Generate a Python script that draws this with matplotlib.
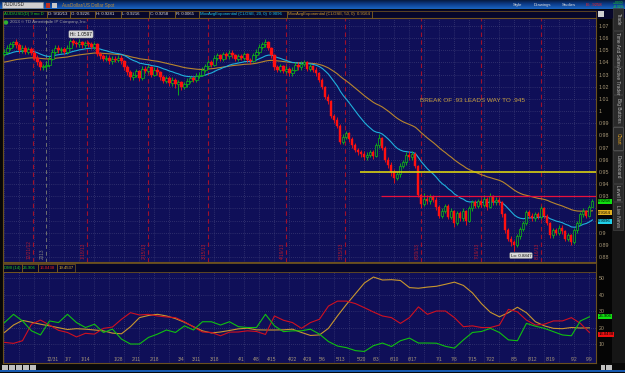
import numpy as np
import matplotlib.pyplot as plt
from matplotlib.patches import Rectangle
from matplotlib.colors import LinearSegmentedColormap
from matplotlib.transforms import blended_transform_factory

plt.rcParams["font.family"] = ["Liberation Sans", "DejaVu Sans"]

# AUD/USD daily bars, 12/10/12 .. 9/10/13
closes = [
    1.049, 1.052, 1.055, 1.057, 1.054, 1.050, 1.052, 1.049, 1.051, 1.048,
    1.044, 1.040, 1.036, 1.037, 1.038, 1.043, 1.049, 1.052, 1.050, 1.051,
    1.049, 1.052, 1.058, 1.056, 1.055, 1.057, 1.054, 1.056, 1.055, 1.053,
    1.055, 1.047, 1.045, 1.043, 1.044, 1.041, 1.043, 1.042, 1.044, 1.041,
    1.036, 1.032, 1.028, 1.030, 1.033, 1.027, 1.035, 1.033, 1.036, 1.030,
    1.034, 1.032, 1.028, 1.025, 1.027, 1.023, 1.026, 1.022, 1.024, 1.020,
    1.022, 1.025, 1.027, 1.026, 1.029, 1.030, 1.034, 1.037, 1.040, 1.038,
    1.044, 1.046, 1.043, 1.047, 1.045, 1.048, 1.046, 1.043, 1.045, 1.044,
    1.047, 1.042, 1.041, 1.046, 1.049, 1.053, 1.055, 1.057, 1.052, 1.046,
    1.036, 1.034, 1.037, 1.033, 1.035, 1.031, 1.034, 1.038, 1.036, 1.039,
    1.040, 1.035, 1.037, 1.034, 1.031, 1.026, 1.020, 1.012, 1.008, 0.996,
    0.993, 0.988, 0.975, 0.979, 0.982, 0.977, 0.972, 0.968, 0.966, 0.965,
    0.962, 0.964, 0.966, 0.963, 0.972, 0.978, 0.970, 0.960, 0.956, 0.950,
    0.945, 0.948, 0.955, 0.958, 0.964, 0.962, 0.965, 0.955, 0.931, 0.924,
    0.928, 0.926, 0.929, 0.927, 0.921, 0.914, 0.918, 0.922, 0.913, 0.918,
    0.908, 0.916, 0.912, 0.918, 0.910, 0.920, 0.925, 0.922, 0.926, 0.923,
    0.928, 0.921, 0.930, 0.925, 0.927, 0.925, 0.915, 0.902, 0.895, 0.892,
    0.890, 0.897, 0.903, 0.908, 0.917, 0.914, 0.912, 0.915, 0.913, 0.920,
    0.914, 0.908, 0.898, 0.902, 0.900, 0.904, 0.901, 0.895, 0.898, 0.892,
    0.902, 0.908, 0.915, 0.918, 0.914, 0.921, 0.9258,
]
highs = [
    1.051, 1.054, 1.057, 1.058, 1.059, 1.056, 1.054, 1.054, 1.053, 1.053,
    1.050, 1.046, 1.042, 1.039, 1.040, 1.045, 1.051, 1.054, 1.054, 1.053,
    1.053, 1.054, 1.0597, 1.059, 1.058, 1.059, 1.058, 1.058, 1.058, 1.057,
    1.057, 1.056, 1.049, 1.047, 1.046, 1.046, 1.045, 1.045, 1.046, 1.046,
    1.042, 1.038, 1.034, 1.032, 1.035, 1.034, 1.037, 1.037, 1.038, 1.037,
    1.036, 1.036, 1.033, 1.030, 1.029, 1.029, 1.028, 1.027, 1.026, 1.025,
    1.024, 1.027, 1.029, 1.029, 1.031, 1.032, 1.036, 1.039, 1.042, 1.042,
    1.046, 1.048, 1.047, 1.049, 1.049, 1.050, 1.050, 1.047, 1.047, 1.047,
    1.049, 1.048, 1.044, 1.048, 1.051, 1.055, 1.057, 1.059, 1.058, 1.053,
    1.047, 1.038, 1.039, 1.038, 1.037, 1.036, 1.036, 1.040, 1.040, 1.041,
    1.042, 1.041, 1.039, 1.038, 1.036, 1.032, 1.027, 1.021, 1.014, 1.009,
    0.998, 0.995, 0.989, 0.981, 0.984, 0.983, 0.979, 0.974, 0.970, 0.968,
    0.967, 0.966, 0.968, 0.968, 0.974, 0.981, 0.979, 0.971, 0.962, 0.958,
    0.952, 0.950, 0.957, 0.960, 0.966, 0.967, 0.967, 0.966, 0.956, 0.933,
    0.933, 0.931, 0.932, 0.931, 0.929, 0.923, 0.920, 0.924, 0.924, 0.920,
    0.919, 0.918, 0.918, 0.920, 0.919, 0.922, 0.927, 0.927, 0.928, 0.928,
    0.931, 0.929, 0.933, 0.931, 0.929, 0.929, 0.926, 0.916, 0.904, 0.897,
    0.894, 0.899, 0.905, 0.910, 0.919, 0.919, 0.916, 0.917, 0.917, 0.922,
    0.921, 0.915, 0.909, 0.904, 0.904, 0.906, 0.906, 0.902, 0.900, 0.899,
    0.904, 0.910, 0.917, 0.920, 0.919, 0.923, 0.9281,
]
lows = [
    1.045, 1.047, 1.050, 1.053, 1.052, 1.048, 1.048, 1.047, 1.047, 1.046,
    1.042, 1.038, 1.034, 1.034, 1.035, 1.036, 1.042, 1.047, 1.048, 1.048,
    1.047, 1.047, 1.051, 1.054, 1.053, 1.053, 1.052, 1.052, 1.053, 1.051,
    1.051, 1.045, 1.043, 1.041, 1.041, 1.039, 1.039, 1.040, 1.040, 1.039,
    1.034, 1.030, 1.026, 1.026, 1.028, 1.025, 1.026, 1.031, 1.031, 1.028,
    1.029, 1.030, 1.026, 1.023, 1.023, 1.021, 1.021, 1.019, 1.013, 1.017,
    1.018, 1.020, 1.023, 1.024, 1.024, 1.027, 1.029, 1.032, 1.035, 1.036,
    1.037, 1.042, 1.041, 1.041, 1.043, 1.043, 1.044, 1.041, 1.041, 1.042,
    1.042, 1.040, 1.039, 1.040, 1.044, 1.047, 1.051, 1.053, 1.050, 1.044,
    1.034, 1.032, 1.032, 1.031, 1.031, 1.029, 1.029, 1.033, 1.034, 1.034,
    1.037, 1.033, 1.033, 1.032, 1.029, 1.024, 1.018, 1.010, 1.006, 0.994,
    0.990, 0.986, 0.973, 0.973, 0.977, 0.975, 0.970, 0.966, 0.964, 0.962,
    0.960, 0.960, 0.962, 0.961, 0.962, 0.970, 0.968, 0.958, 0.953, 0.947,
    0.941, 0.943, 0.946, 0.953, 0.956, 0.960, 0.960, 0.953, 0.929, 0.920,
    0.922, 0.924, 0.924, 0.925, 0.919, 0.912, 0.912, 0.916, 0.911, 0.911,
    0.905, 0.906, 0.910, 0.910, 0.906, 0.909, 0.918, 0.920, 0.920, 0.921,
    0.921, 0.919, 0.920, 0.923, 0.923, 0.923, 0.913, 0.900, 0.893, 0.889,
    0.8847, 0.888, 0.895, 0.901, 0.906, 0.912, 0.910, 0.910, 0.911, 0.911,
    0.912, 0.906, 0.896, 0.896, 0.898, 0.898, 0.899, 0.893, 0.893, 0.890,
    0.891, 0.900, 0.906, 0.913, 0.912, 0.913, 0.9216,
]
first_open = 1.047
ema20_start = 1.046
ema50_start = 1.040

# DMI(14) read every third bar
di_plus = [
    23, 28, 24, 18, 15.5, 24, 23, 28, 23, 20, 22, 17, 19, 13, 10, 10, 14,
    16, 18.5, 17, 21, 18.5, 23.5, 23.5, 21.5, 23.5, 20.5, 20, 20, 28, 21,
    17.5, 18, 18, 19, 16, 11.5, 8.8, 7.8, 6, 5.5, 9, 10.6, 8.5, 12, 13.6,
    10.6, 10.6, 10.5, 8.6, 7.5, 12.5, 17, 17.6, 19.5, 17, 12.5, 12, 22.5,
    20.8, 19.5, 17.5, 15.5, 15, 24, 26.5,
]
di_minus = [
    11, 10.4, 12, 22, 24.5, 21.5, 18.3, 17, 14.3, 16.5, 16, 19.5, 20.3, 25,
    29, 27.6, 28, 27, 26.4, 26, 23.5, 20.3, 17.3, 17, 15, 17.2, 17.3, 18,
    17.6, 15.8, 27, 24.4, 23, 19.5, 23, 25, 33, 36, 36, 34.5, 32, 29.4, 27,
    26, 22.5, 26, 32.5, 28, 30, 30, 26, 20.5, 21, 20, 20, 21.5, 31, 29.5,
    24.5, 21.5, 22, 24, 24, 26, 22.5, 17,
]
adx = [
    17, 21.5, 24.3, 23.2, 22, 21, 19.9, 18.8, 19.3, 19, 18.5, 18, 16.6, 16.2,
    20.5, 26, 27.3, 28, 27, 25.4, 23.2, 20.5, 18, 16.7, 17.3, 18.2, 19.2,
    19.6, 18.6, 18.5, 18.5, 18.6, 19, 17, 15.2, 15.5, 19.5, 27, 34, 40.5,
    47, 50.6, 48.8, 49, 48.5, 44.2, 43.8, 44.5, 45, 46.2, 47.5, 45.5, 41,
    34.5, 29.2, 26.5, 29, 32.3, 29, 23.5, 21, 19.5, 19.3, 20, 19.7, 19.8,
]

date_labels = ["12/31", "1/7", "1/14", "1/28", "2/11", "2/18", "3/4", "3/11",
               "3/18", "4/1", "4/8", "4/15", "4/22", "4/29", "5/6", "5/13",
               "5/20", "6/3", "6/10", "6/17", "7/1", "7/8", "7/15", "7/22",
               "8/5", "8/12", "8/19", "9/2", "9/9"]
date_label_idx = [16, 21, 27, 38, 44, 50, 59, 64, 70, 79, 84, 89, 96, 101,
                  106, 112, 119, 124, 130, 136, 145, 150, 156, 162, 170, 176,
                  182, 190, 195]
week_idx = list(range(0, 197, 5))
event_idx = [9.5, 27.5, 48, 68, 94, 113.5, 139, 159, 179]
event_labels = ["12/21/12", "1/18/13", "2/15/13", "3/15/13", "4/19/13",
                "5/15/13", "6/20/13", "7/19/13", "8/16/13"]
year_idx = 14

price_ticks = [round(0.88 + 0.01 * k, 2) for k in range(20)]
hidden_price_ticks = [0.92, 0.91]  # covered by the last-value boxes
dmi_ticks = [10, 20, 30, 40, 50]

W, H = 625, 373
NAVY = "#0f0f58"
GRID = "#4a4a80"
AXTXT = "#a89878"


def frac(x0, y0, x1, y1):
    return [x0 / W, 1 - y1 / H, (x1 - x0) / W, (y1 - y0) / H]


def ema(values, span, start):
    k = 2 / (span + 1)
    out = []
    prev = start
    for v in values:
        prev = prev + k * (v - prev)
        out.append(prev)
    return out


def price_label(v):
    if v in hidden_price_ticks:
        return ""
    return f"{v:.2f}".rstrip("0").rstrip(".")


n = len(closes)
idx = np.arange(n)
opens = [first_open] + closes[:-1]
ema20 = ema(closes, 20, ema20_start)
ema50 = ema(closes, 50, ema50_start)

fig = plt.figure(figsize=(W / 100, H / 100), dpi=100, facecolor="#050505")

# ---- window chrome underneath ----
bg = fig.add_axes([0, 0, 1, 1])
bg.set_xlim(0, W)
bg.set_ylim(H, 0)
bg.axis("off")
cmap = LinearSegmentedColormap.from_list("bar", ["#061430", "#0c3c8a", "#1a64c0"])
bg.imshow(np.linspace(0, 1, 20).reshape(-1, 1), extent=(0, W, 9.5, 0),
          aspect="auto", cmap=cmap, zorder=0)
bg.add_patch(Rectangle((0, 9.5), W, 9, fc="#07072a", ec="none"))
bg.add_patch(Rectangle((612, 18), 13, 345, fc="#161616", ec="none"))
bg.add_patch(Rectangle((0, 363), W, 10, fc="#080808", ec="none"))
bg.plot([0, W], [371, 371], color="#1a6ad0", lw=1.2)

# ---- price panel ----
ax = fig.add_axes(frac(3, 18, 596, 262))
ax.set_facecolor(NAVY)
ax.set_xlim(-0.5, 197.2)
ax.set_ylim(0.8759, 1.0766)
for s in ax.spines.values():
    s.set_color("#6a5020")
    s.set_linewidth(0.8)
ax.set_xticks([])
ax.yaxis.tick_right()
ax.set_yticks(price_ticks)
ax.set_yticklabels([price_label(v) for v in price_ticks])
ax.tick_params(axis="y", length=0, pad=2, labelsize=3.8, labelcolor=AXTXT)
for p in price_ticks:
    ax.axhline(p, color=GRID, lw=0.5, ls=(0, (1, 2)), zorder=1)
for w in week_idx:
    ax.axvline(w, color=GRID, lw=0.5, ls=(0, (1, 2)), zorder=1)
for e in event_idx:
    ax.axvline(e, color="#a0102c", lw=0.8, ls=(0, (4, 3)), zorder=1.5)
ax.axvline(year_idx, color="#707070", lw=0.7, ls=(0, (4, 3)), zorder=1.5)
for e, lab in zip(event_idx, event_labels):
    ax.text(e - 1.3, 0.878, lab, rotation=90, fontsize=3.4, color="#b01a30",
            ha="center", va="bottom", zorder=2)
ax.text(year_idx - 1.3, 0.878, "2013", rotation=90, fontsize=3.4,
        color="#808080", ha="center", va="bottom", zorder=2)

ax.plot(idx, ema50, color="#b8862e", lw=0.8, zorder=3)
ax.plot(idx, ema20, color="#1fb0dc", lw=0.8, zorder=3)

up = [c >= o for o, c in zip(opens, closes)]
wick_col = ["#10c010" if u else "#ff1010" for u in up]
ax.vlines(idx, lows, highs, colors=wick_col, lw=0.6, zorder=4)
for i in range(n):
    body = closes[i] - opens[i]
    if up[i]:
        ax.bar(i, max(body, 0.0004), bottom=opens[i], width=0.7, fc=NAVY,
               ec="#10c010", lw=0.5, zorder=5)
    else:
        ax.bar(i, min(body, -0.0004), bottom=opens[i], width=0.7,
               fc="#ff1010", ec="#ff1010", lw=0.3, zorder=5)

ax.hlines(0.95, 118.5, 197.2, color="#d8d010", lw=1.2, zorder=6)
ax.hlines(0.93, 125.5, 197.2, color="#e8103c", lw=0.9, zorder=6)
ax.text(156, 1.0091, "BREAK OF .93 LEADS WAY TO .945", fontsize=4.6,
        color="#c8a040", ha="center", va="center", zorder=7)

hi_i = int(np.argmax(highs))
lo_i = int(np.argmin(lows))
ax.text(hi_i + 3.5, max(highs) + 0.0035, "Hi: 1.0597", fontsize=3.4,
        color="#101010", ha="center", va="center", zorder=8,
        bbox=dict(boxstyle="round,pad=0.25", fc="#d8d8d8", ec="#909090", lw=0.3))
ax.text(lo_i + 2.2, min(lows) - 0.0035, "Lo: 0.8847", fontsize=3.2,
        color="#101010", ha="center", va="center", zorder=8,
        bbox=dict(boxstyle="round,pad=0.2", fc="#d8d8d8", ec="#909090", lw=0.3))

tr = blended_transform_factory(ax.transAxes, ax.transData)
for val, txt, fc in [(0.9258, "0.9258", "#10e010"), (0.9164, "0.9164", "#e0b020"),
                     (0.9096, "0.9096", "#20d0e8")]:
    ax.text(1.004, val, txt, transform=tr, fontsize=3.1, color="#000000",
            ha="left", va="center", clip_on=False, zorder=9,
            bbox=dict(boxstyle="square,pad=0.12", fc=fc, ec="none"))

# ---- DMI panel ----
ax2 = fig.add_axes(frac(3, 263, 596, 363))
ax2.set_facecolor(NAVY)
ax2.set_xlim(-0.5, 197.2)
ax2.set_ylim(-1.5, 59.1)
for s in ax2.spines.values():
    s.set_color("#6a5020")
    s.set_linewidth(0.8)
ax2.set_xticks([])
ax2.yaxis.tick_right()
ax2.set_yticks(dmi_ticks)
ax2.set_yticklabels([str(t) for t in dmi_ticks])
ax2.tick_params(axis="y", length=0, pad=2, labelsize=3.8, labelcolor=AXTXT)
for t in dmi_ticks:
    ax2.axhline(t, color=GRID, lw=0.5, ls=(0, (1, 2)), zorder=1)
for w in week_idx:
    ax2.axvline(w, color=GRID, lw=0.5, ls=(0, (1, 2)), zorder=1)
dmi_x = np.arange(len(adx)) * 3
ax2.plot(dmi_x, adx, color="#c8962e", lw=0.8, zorder=3)
ax2.plot(dmi_x, di_minus, color="#d01020", lw=0.8, zorder=3)
ax2.plot(dmi_x, di_plus, color="#10c010", lw=0.8, zorder=3)
tr2 = blended_transform_factory(ax2.transData, ax2.transAxes)
for i, lab in zip(date_label_idx, date_labels):
    ax2.text(i, 0.035, lab, transform=tr2, fontsize=3.4, color=AXTXT,
             ha="center", va="center", zorder=4)
tr3 = blended_transform_factory(ax2.transAxes, ax2.transData)
for val, txt, fc in [(26.906, "26.906", "#10e010"), (16.0438, "16.0438", "#f01010")]:
    ax2.text(1.004, val, txt, transform=tr3, fontsize=3.1, color="#000000",
             ha="left", va="center", clip_on=False, zorder=9,
             bbox=dict(boxstyle="square,pad=0.12", fc=fc, ec="none"))

# ---- overlay: headers, tabs, captions ----
top = fig.add_axes([0, 0, 1, 1], zorder=10)
top.set_xlim(0, W)
top.set_ylim(H, 0)
top.axis("off")
top.patch.set_alpha(0)


def cell(x0, x1, y0, y1, txt, color, size=3.1):
    top.add_patch(Rectangle((x0, y0), x1 - x0, y1 - y0, fc="none",
                            ec="#7a5a20", lw=0.5))
    top.text(x0 + 1.2, (y0 + y1) / 2, txt, fontsize=size, color=color,
             ha="left", va="center")


# title bar
top.add_patch(Rectangle((2, 2), 41, 6, fc="#d0d0d0", ec="#808080", lw=0.4))
top.text(4, 5, "AUD/USD", fontsize=3.3, color="#202020", va="center")
top.add_patch(Rectangle((46, 2.5), 4, 5, fc="#c03020", ec="none"))
top.add_patch(Rectangle((52, 2.5), 5, 5, fc="#c8c8c8", ec="none"))
top.text(62, 5, "AusDollar/US Dollar Spot", fontsize=3.3, color="#c08a30",
         va="center")
for x, lab in [(513, "Style"), (534, "Drawings"), (562, "Studies")]:
    top.text(x, 5, lab, fontsize=3.1, color="#e0e0e0", va="center")
top.text(586, 5, "B: .9258", fontsize=3.1, color="#ff2020", va="center")
top.text(613, 3.2, "+.0030", fontsize=2.4, color="#20e020", va="center")
top.text(613, 6.6, "+0.32%", fontsize=2.4, color="#20e020", va="center")

# study header
cell(3, 47, 10.5, 17.5, "AUD/USD(D) 9 mo D", "#20d020")
cell(47, 70, 10.5, 17.5, "D: 9/10/13", "#e0e0e0")
cell(70, 95, 10.5, 17.5, "O: 0.9226", "#e0e0e0")
cell(95, 121, 10.5, 17.5, "H: 0.9281", "#e0e0e0")
cell(121, 149, 10.5, 17.5, "L: 0.9216", "#e0e0e0")
cell(149, 175, 10.5, 17.5, "C: 0.9258", "#e0e0e0")
cell(175, 199, 10.5, 17.5, "R: 0.0065", "#e0e0e0")
cell(199, 287, 10.5, 17.5, "MovAvgExponential (CLOSE, 20, 0)  0.9096", "#20c8e8")
cell(287, 372, 10.5, 17.5, "MovAvgExponential (CLOSE, 50, 0)  0.9164", "#d09a30")
cell(372, 596, 10.5, 17.5, "", "#e0e0e0")
top.add_patch(Rectangle((598, 10.5), 6, 6, fc="#d0d0d0", ec="none"))

top.add_patch(plt.Circle((6, 22.5), 2.2, fc="#30b030", ec="none"))
top.text(10, 22.5, "2013 \u00a9 TD Ameritrade IP Company, Inc.", fontsize=3.2,
         color="#a0a0a0", va="center")

# DMI header
top.add_patch(Rectangle((3, 263), 593, 9, fc="#06062a", ec="#6a5020", lw=0.6))
cell(3, 22, 264, 271.5, "DMI (14)", "#20d020", 3.1)
cell(22, 38, 264, 271.5, "26.906", "#20d020", 3.1)
cell(38, 57, 264, 271.5, "16.0438", "#f02020", 3.1)
cell(57, 75, 264, 271.5, "19.4537", "#e0b030", 3.1)

# side tabs
tabs = [("Trade", 8, 30), ("Time And Sales", 31, 66), ("Active Trader", 67, 94),
        ("Big Buttons", 95, 126), ("Chart", 127, 150), ("Dashboard", 151, 183),
        ("Level II", 184, 201), ("Live News", 202, 230)]
for lab, y0, y1 in tabs:
    active = lab == "Chart"
    top.add_patch(Rectangle((613, y0), 10, y1 - y0, fc="#2a2a2a",
                            ec="#707070" if active else "#4a4a4a", lw=0.4))
    top.text(618, (y0 + y1) / 2, lab, rotation=270, fontsize=3.4,
             color="#e0a020" if active else "#b8b8b8", ha="center", va="center")

# bottom toolbar
for k in range(5):
    top.add_patch(Rectangle((2 + 7 * k, 364.5), 6, 5, fc="#c0c0c0", ec="none"))
top.add_patch(Rectangle((601, 364.5), 4, 5, fc="#c0c0c0", ec="none"))
top.add_patch(Rectangle((606, 364.5), 6, 5, fc="#c0c0c0", ec="none"))

fig.savefig("out.png", dpi=100, facecolor=fig.get_facecolor())
